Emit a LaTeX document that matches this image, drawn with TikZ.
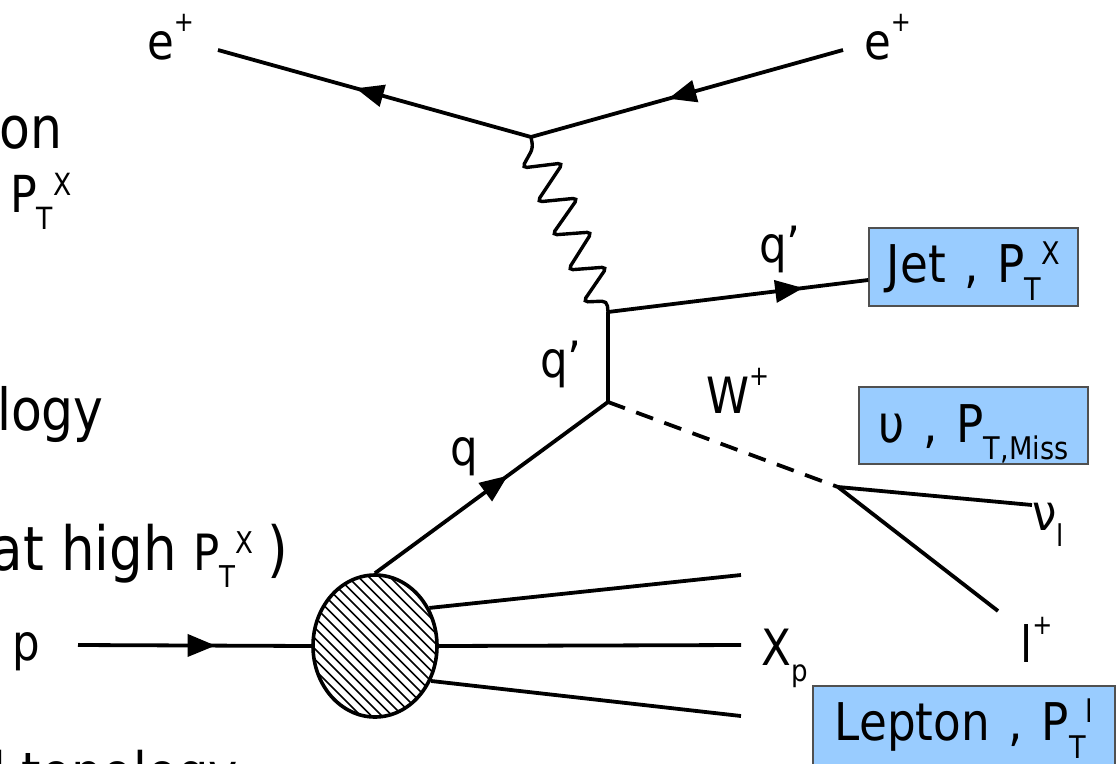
\documentclass[tikz,border=0pt]{standalone}
\usepackage{fontspec}
\setmainfont{DejaVu Sans}[FakeStretch=0.87]
\usetikzlibrary{arrows.meta,decorations.markings,calc,shapes.geometric}
\definecolor{boxblue}{RGB}{153,204,255}
\definecolor{boxedge}{RGB}{80,80,80}
\newcommand\fs[1]{\fontsize{#1}{#1}\selectfont}
\newcommand\ptsx[3]{#1\raisebox{-0.35em}{\scalebox{.6}{#2}}\raisebox{0.33em}{\scalebox{.6}{#3}}}
\newcommand\subx[2]{#1\raisebox{-0.33em}{\scalebox{.6}{#2}}}
\newcommand\supx[2]{#1\raisebox{0.55em}{\scalebox{.55}{#2}}}
\newcommand\wsp{\hspace{0.36em}}
\begin{document}
\begin{tikzpicture}[x=1pt,y=-1pt,
  line/.style={line width=3.8pt},
  midarrow/.style={postaction={decorate},decoration={markings,mark=at position #1 with {\arrow{Triangle[length=28pt,width=22pt]}}}},
  lbl/.style={inner sep=0pt,font=\fs{50}},
  lefttext/.style={inner sep=0pt,font=\fs{58}},
  infobox/.style={draw=boxedge,line width=1.5pt,fill=boxblue,font=\fs{52},inner sep=0pt},
]
\useasboundingbox (0,0) rectangle (1118,763);
\clip (0,0) rectangle (1118,763);

% left text fragments
\node[lefttext,anchor=base east] (t1) at (63,148) {ion};
\node[lefttext,font=\fs{51},anchor=base west] (t2) at (10,212) {\ptsx{P}{T}{X}};
\node[lefttext,anchor=base east] (t3) at (104,430) {ology};
\node[lefttext,font=\fs{61},anchor=base east] (t4) at (288,570) {(at high {\fs{50}\ptsx{P}{T}{X}}\hspace{0.22em})};
\node[lefttext,font=\fs{57},anchor=base west] (t5) at (-8,793) {l topology};

% boxes
\node[infobox,minimum width=209,minimum height=78,text height=40pt,text depth=10pt] (jet) at (973.5,267) {Jet\wsp,\wsp\ptsx{P}{T}{X}};
\node[infobox,minimum width=229,minimum height=77,text height=40pt,text depth=7pt] (nubox) at (973.5,425.5) {υ\wsp,\wsp\subx{P}{T,Miss}};
\node[infobox,minimum width=302,minimum height=84,text height=36pt,text depth=12pt] (lep) at (964,728) {Lepton\wsp,\wsp\ptsx{P}{T}{l}};

% blob
\node[ellipse,draw,line width=3.6pt,minimum width=124,minimum height=142,inner sep=0pt,
  path picture={\foreach \d in {-210,-199.5,...,210}{\draw[line width=1.7pt] ([shift={(\d-110,-110)}]path picture bounding box.center) -- ++(220,220);}}] (blob) at (375,646) {};

% vertices and free ends
\coordinate (V1) at (531,137);
\coordinate (V2) at (608,312);
\coordinate (V3) at (608,402);
\coordinate (V4) at (838,487);
\coordinate (eL) at (218,50);
\coordinate (eR) at (843,50);
\coordinate (pS) at (78,645);
\coordinate (nuE) at (1032,505);
\coordinate (lE) at (998,611);
\coordinate (x1) at (741,575);
\coordinate (x2) at (741,645);
\coordinate (x3) at (741,716);

% labels
\node[lbl,anchor=base west] (le) at (147,59) {\supx{e}{+}};
\node[lbl,anchor=base west] (re) at (864,59) {\supx{e}{+}};
\node[lbl,anchor=base west] (qj) at (759,262) {q’};
\node[lbl,anchor=base west] (qv) at (540,377) {q’};
\node[lbl,anchor=base west] (wl) at (706,413) {\supx{W}{+}};
\node[lbl,anchor=base west] (ql) at (450,465) {q};
\node[lbl,anchor=base west] (nul) at (1032,530) {\subx{ν}{l}};
\node[lbl,anchor=base west] (lp) at (1020,662) {\supx{l}{+}};
\node[lbl,anchor=base west] (xp) at (761,665) {\subx{X}{p}};
\node[lbl,anchor=base west] (pl) at (12,660) {p};

% lines
\draw[line,midarrow=0.56] (V1) -- (eL);
\draw[line,midarrow=0.56] (eR) -- (V1);
\draw[line width=3.4pt,rounded corners=5pt] (V1) -- (533,148) -- (522,168) -- (563,163) -- (537,202) -- (578,198) -- (552,235) -- (592,232) -- (568,270) -- (607,267) -- (583,302) -- (607,301) -- (V2);
\draw[line,midarrow=0.75] (V2) -- ($(jet.west)+(0,13)$);
\draw[line] (V2) -- (V3);
\draw[line,midarrow=0.57] (blob.north) -- (V3);
\draw[line,dash pattern=on 18pt off 12pt] (V3) -- (V4);
\draw[line] (V4) -- (nuE);
\draw[line] (V4) -- (lE);
\draw[line,midarrow=0.59] (pS) -- (blob.west);
\draw[line] (blob.35) -- (x1);
\draw[line] (blob.east) -- (x2);
\draw[line] (blob.-32) -- (x3);
\end{tikzpicture}
\end{document}
